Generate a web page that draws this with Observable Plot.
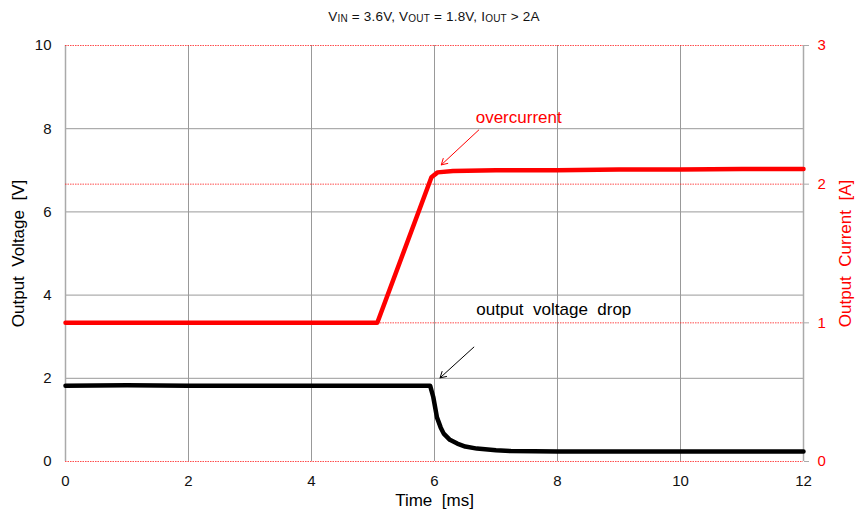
<!DOCTYPE html>
<html>
<head>
<meta charset="utf-8">
<script src="https://cdn.jsdelivr.net/npm/d3@7"></script>
<script src="https://cdn.jsdelivr.net/npm/@observablehq/plot@0.6"></script>
<style>
  html, body { margin: 0; padding: 0; background: #fff; }
  body { width: 856px; font-family: "Liberation Sans", Arial, sans-serif; }
  #title { height: 30px; line-height: 33px; text-align: center; font-size: 13.5px; letter-spacing: 0.2px; color: #111; padding-left: 12px; box-sizing: border-box; white-space: pre; }
  #title sub { font-size: 10px; vertical-align: -1px; line-height: 0; }
  svg { display: block; }
  svg text { white-space: pre; }
</style>
</head>
<body>
<div id="title">V<sub>IN</sub> = 3.6V, V<sub>OUT</sub> = 1.8V, I<sub>OUT</sub> &gt; 2A</div>
<div id="chart"></div>
<script>
// Output voltage trace (time ms, volts)
const voltageTime = [0, 1, 2, 3, 4, 5, 5.93, 5.98, 6.04, 6.1, 6.15, 6.25, 6.37, 6.5, 6.69, 7.0, 7.24, 8, 9, 10, 11, 12];
const voltageValue = [1.82, 1.83, 1.82, 1.82, 1.82, 1.82, 1.82, 1.55, 1.06, 0.82, 0.67, 0.52, 0.43, 0.36, 0.31, 0.27, 0.25, 0.24, 0.24, 0.24, 0.24, 0.24];
// Output current trace (time ms, amps)
const currentTime = [0, 1, 2, 3, 4, 5.07, 5.95, 6.05, 6.3, 7, 8, 9, 10, 11, 12];
const currentValue = [1.0, 1.0, 1.0, 1.0, 1.0, 1.0, 2.05, 2.085, 2.095, 2.1, 2.1, 2.105, 2.105, 2.11, 2.11];

const xTicks = [0, 2, 4, 6, 8, 10, 12];
const voltTicks = [0, 2, 4, 6, 8, 10];
const currentTicks = [0, 1, 2, 3];
const voltGrid = [2, 4, 6, 8];
const timeGrid = [2, 4, 6, 8, 10];

const vMax = 10, iMax = 3;
const toV = i => i * vMax / iMax;

const voltage = voltageTime.map((t, k) => ({t, v: voltageValue[k]}));
const current = currentTime.map((t, k) => ({t, i: currentValue[k]}));

const annotations = [
  {t: 6.67, v: 8.27, text: "overcurrent", color: "#ff0000"},
  {t: 6.68, v: 3.65, text: "output  voltage  drop", color: "#000000"}
];
const arrows = [
  {x1: 6.72, y1: 7.97, x2: 6.11, y2: 7.13, color: "#ff0000"},
  {x1: 6.64, y1: 2.75, x2: 6.09, y2: 2.01, color: "#000000"}
];

const font = "Liberation Sans, Arial, sans-serif";

const chart = Plot.plot({
  width: 856,
  height: 489,
  marginTop: 15,
  marginBottom: 58,
  marginLeft: 65,
  marginRight: 53,
  style: {fontFamily: font, fontSize: "14px", background: "#fff"},
  x: {domain: [0, 12]},
  y: {domain: [0, vMax]},
  marks: [
    Plot.ruleX(timeGrid, {stroke: "#999", strokeWidth: 1}),
    Plot.ruleY(voltGrid, {stroke: "#999", strokeWidth: 1}),
    Plot.ruleX([0, 12], {stroke: "#aaa", strokeWidth: 1.5}),
    Plot.ruleY(currentTicks, {y: d => toV(d), stroke: "#ff2020", strokeOpacity: 0.8, strokeWidth: 1, strokeDasharray: "1.5,1"}),
    Plot.axisX({ticks: xTicks, tickSize: 0, tickPadding: 14, label: null, fontSize: 15, color: "#111"}),
    Plot.axisY({ticks: voltTicks, tickSize: 0, tickPadding: 14, label: null, fontSize: 15, color: "#111"}),
    Plot.axisY({anchor: "right", ticks: currentTicks.map(toV), tickFormat: d => String(Math.round(d * iMax / vMax)), tickSize: 5, tickPadding: 9, label: null, fontSize: 15, color: "#ff0000", stroke: "#aaa"}),
    Plot.line(current, {x: "t", y: d => toV(d.i), stroke: "#ff0000", strokeWidth: 4.5, strokeLinejoin: "round"}),
    Plot.line(voltage, {x: "t", y: "v", stroke: "#000", strokeWidth: 4.5, strokeLinejoin: "round"}),
    Plot.arrow(arrows, {x1: "x1", y1: "y1", x2: "x2", y2: "y2", stroke: "color", strokeWidth: 1, headLength: 10}),
    Plot.text(annotations, {x: "t", y: "v", text: "text", fill: "color", textAnchor: "start", fontSize: 17, letterSpacing: 0.3}),
    Plot.text(["Output  Voltage  [V]"], {frameAnchor: "left", textAnchor: "middle", rotate: -90, dx: -47, fontSize: 17, letterSpacing: 0.3, fill: "#000"}),
    Plot.text(["Output  Current  [A]"], {frameAnchor: "right", textAnchor: "middle", rotate: -90, dx: 42, fontSize: 17, letterSpacing: 0.3, fill: "#ff0000"}),
    Plot.text(["Time  [ms]"], {frameAnchor: "bottom", textAnchor: "middle", dy: 44, fontSize: 17, letterSpacing: 0.3, fill: "#000"})
  ]
});
document.getElementById("chart").appendChild(chart);
</script>
</body>
</html>
